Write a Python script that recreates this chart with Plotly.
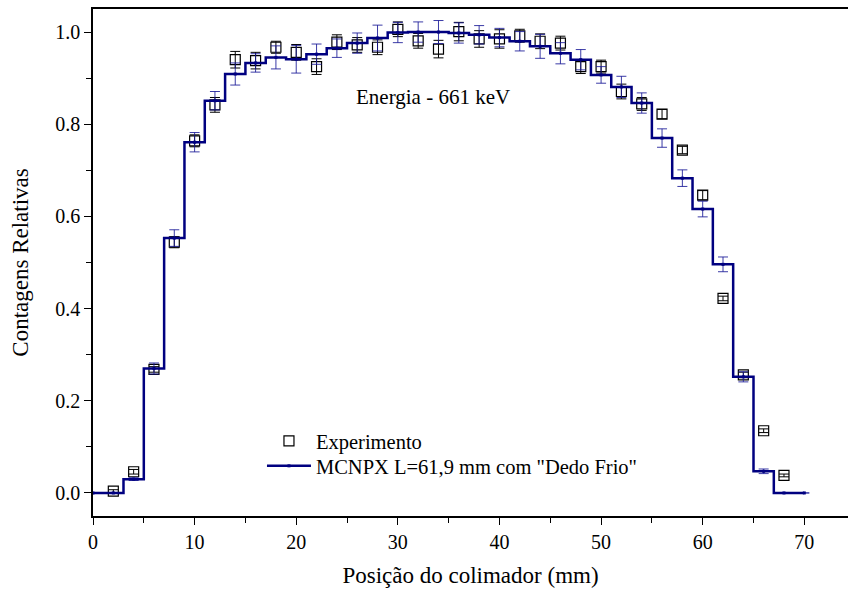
import plotly.graph_objects as go

# Experimental points (collimator position in mm, relative counts, uncertainty)
exp_x = [2, 4, 6, 8, 10, 12, 14, 16, 18, 20, 22, 24, 26, 28, 30, 32, 34,
         36, 38, 40, 42, 44, 46, 48, 50, 52, 54, 56, 58, 60, 62, 64, 66, 68]
exp_y = [0.004, 0.046, 0.268, 0.544, 0.764, 0.842, 0.940, 0.938, 0.967, 0.956,
         0.925, 0.978, 0.972, 0.967, 1.006, 0.981, 0.963, 1.001, 0.985, 0.985,
         0.992, 0.980, 0.976, 0.925, 0.925, 0.871, 0.844, 0.822, 0.744, 0.646,
         0.422, 0.256, 0.135, 0.038]
exp_err = [0.003, 0.005, 0.006, 0.012, 0.013, 0.016, 0.018, 0.018, 0.013, 0.017,
           0.017, 0.016, 0.016, 0.016, 0.016, 0.016, 0.019, 0.020, 0.018, 0.020,
           0.014, 0.016, 0.015, 0.015, 0.014, 0.016, 0.014, 0.010, 0.008, 0.010,
           0.005, 0.006, 0.004, 0.003]

# MCNPX simulation (step profile, bins centred on even positions)
sim_x = [0, 2, 4, 6, 8, 10, 12, 14, 16, 18, 20, 22, 24, 26, 28, 30, 32, 34,
         36, 38, 40, 42, 44, 46, 48, 50, 52, 54, 56, 58, 60, 62, 64, 66, 68, 70]
sim_y = [0.0, 0.0, 0.030, 0.270, 0.553, 0.761, 0.851, 0.909, 0.933, 0.945,
         0.941, 0.952, 0.965, 0.976, 0.987, 0.999, 1.000, 1.000, 0.998, 0.994,
         0.988, 0.980, 0.969, 0.954, 0.940, 0.907, 0.881, 0.846, 0.770, 0.683,
         0.616, 0.496, 0.252, 0.047, 0.0, 0.0]
sim_err = [0.0, 0.001, 0.003, 0.012, 0.018, 0.021, 0.020, 0.024, 0.020, 0.025,
           0.030, 0.022, 0.020, 0.022, 0.028, 0.022, 0.022, 0.025, 0.022, 0.020,
           0.020, 0.021, 0.026, 0.023, 0.022, 0.018, 0.023, 0.022, 0.020, 0.018,
           0.017, 0.016, 0.011, 0.005, 0.001, 0.0]

x_ticks = [0, 10, 20, 30, 40, 50, 60, 70]
y_ticks = [0.0, 0.2, 0.4, 0.6, 0.8, 1.0]

FONT = "Liberation Serif, Times New Roman, serif"
NAVY = "#000080"

fig = go.Figure()

fig.add_trace(go.Scatter(
    x=exp_x, y=exp_y,
    mode="markers",
    name="Experimento",
    legend="legend",
    marker=dict(symbol="square-open", size=10, color="black",
                line=dict(width=1.2, color="black")),
    error_y=dict(type="data", array=exp_err, visible=True,
                 color="black", thickness=1, width=5),
))

fig.add_trace(go.Scatter(
    x=sim_x, y=sim_y,
    mode="lines+markers",
    name='MCNPX L=61,9 mm com "Dedo Frio"',
    legend="legend2",
    line=dict(color=NAVY, width=2.5, shape="hvh"),
    marker=dict(symbol="square", size=3, color=NAVY),
    error_y=dict(type="data", array=sim_err, visible=True,
                 color="rgba(25,25,150,0.85)", thickness=1, width=5),
))

fig.add_annotation(
    x=33.5, y=0.859, xref="x", yref="y",
    text="Energia - 661 keV", showarrow=False,
    font=dict(family=FONT, size=21, color="black"),
)

axis_common = dict(showgrid=False, zeroline=False, linecolor="black",
                   linewidth=1.5, tickcolor="black", tickwidth=1.2)

legend_common = dict(xanchor="left", yanchor="middle", bgcolor="rgba(0,0,0,0)",
                     font=dict(family=FONT, size=20.5), itemwidth=44)

fig.update_layout(
    width=848, height=596,
    margin=dict(l=93, r=0, t=9, b=80),
    paper_bgcolor="white", plot_bgcolor="white",
    font=dict(family=FONT, color="black"),
    showlegend=True,
    legend=dict(x=0.2238, y=0.1479, **legend_common),
    legend2=dict(x=0.2238, y=0.0986, **legend_common),
    xaxis=dict(
        range=[0, 74.3], tickvals=x_ticks, ticks="outside", ticklen=7,
        minor=dict(dtick=5, tick0=0, ticks="outside", ticklen=5,
                   tickcolor="black", tickwidth=1.2),
        mirror=True, showline=True,
        tickfont=dict(family=FONT, size=20),
        title=dict(text="Posição do colimador (mm)",
                   font=dict(family=FONT, size=23), standoff=15),
        **axis_common,
    ),
    yaxis=dict(
        range=[-0.05, 1.05], tickvals=y_ticks, tickformat=".1f",
        ticks="outside", ticklen=7,
        minor=dict(dtick=0.1, tick0=0, ticks="outside", ticklen=5,
                   tickcolor="black", tickwidth=1.2),
        showline=True,
        tickfont=dict(family=FONT, size=20),
        title=dict(text="Contagens Relativas",
                   font=dict(family=FONT, size=23), standoff=20),
        **axis_common,
    ),
    # inward ticks on the top and right edges of the frame
    xaxis2=dict(overlaying="x", matches="x", side="top", range=[0, 74.3],
                tickvals=x_ticks, ticks="inside", ticklen=6,
                minor=dict(dtick=5, tick0=0, ticks="inside", ticklen=4,
                           tickcolor="black", tickwidth=1.2),
                showticklabels=False, showline=False, showgrid=False,
                zeroline=False, tickcolor="black", tickwidth=1.2),
    yaxis2=dict(overlaying="y", matches="y", side="right", range=[-0.05, 1.05],
                tickvals=y_ticks, ticks="inside", ticklen=6,
                minor=dict(dtick=0.1, tick0=0, ticks="inside", ticklen=4,
                           tickcolor="black", tickwidth=1.2),
                showticklabels=False, showline=False, showgrid=False,
                zeroline=False, tickcolor="black", tickwidth=1.2),
)

fig.write_html("out.html")
